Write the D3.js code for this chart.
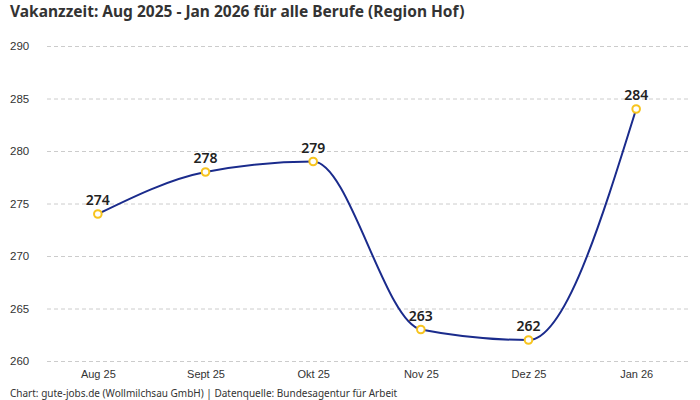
<!DOCTYPE html>
<html>
<head>
<meta charset="utf-8">
<script src="https://cdn.jsdelivr.net/npm/d3@7"></script>
<style>
  body { margin: 0; background: #fff; }
  svg { font-family: "Noto Sans", "Open Sans", sans-serif; }
</style>
</head>
<body>
<svg width="700" height="400"></svg>
<script>
const months = ["Aug 25", "Sept 25", "Okt 25", "Nov 25", "Dez 25", "Jan 26"];
const values = [274, 278, 279, 263, 262, 284];
const yTicks = [260, 265, 270, 275, 280, 285, 290];

let w = 700;
let h = 400;

let svg = d3.select("svg");

let xScale = d3.scalePoint()
    .domain(months)
    .range([44, 690])
    .padding(0.5);

let yScale = d3.scaleLinear()
    .domain([260, 290])
    .range([361, 46]);

// title
svg.append("text")
    .attr("x", 10)
    .attr("y", 17)
    .attr("font-size", 15.5)
    .attr("font-weight", "bold")
    .attr("fill", "#333")
    .text("Vakanzzeit: Aug 2025 - Jan 2026 für alle Berufe (Region Hof)");

// grid + y labels
let yAxis = d3.axisLeft(yScale)
    .tickValues(yTicks)
    .tickSize(-(690 - 47))
    .tickPadding(17);
let gy = svg.append("g")
    .attr("transform", "translate(47,0)")
    .call(yAxis);
gy.select(".domain").remove();
gy.selectAll(".tick line")
    .attr("stroke", "#ccc")
    .attr("stroke-dasharray", "4,3");
gy.selectAll(".tick text")
    .attr("fill", "#333")
    .attr("font-size", 11.5)
    .attr("text-anchor", "start")
    .attr("x", -37);

// x labels
let xAxis = d3.axisBottom(xScale).tickSize(0).tickPadding(9);
let gx = svg.append("g")
    .attr("transform", "translate(0,361)")
    .call(xAxis);
gx.select(".domain").remove();
gx.selectAll(".tick text")
    .attr("fill", "#333")
    .attr("font-size", 11);

// line
let line = d3.line()
    .x((d, i) => xScale(months[i]))
    .y(d => yScale(d))
    .curve(d3.curveMonotoneX);

svg.append("path")
    .datum(values)
    .attr("d", line)
    .attr("fill", "none")
    .attr("stroke", "#1a2b8c")
    .attr("stroke-width", 2);

svg.selectAll("circle.pt")
    .data(values)
    .enter()
    .append("circle")
    .attr("class", "pt")
    .attr("cx", (d, i) => xScale(months[i]))
    .attr("cy", d => yScale(d))
    .attr("r", 3.8)
    .attr("fill", "#fff")
    .attr("stroke", "#f7c41f")
    .attr("stroke-width", 2);

svg.selectAll("text.val")
    .data(values)
    .enter()
    .append("text")
    .attr("class", "val")
    .attr("x", (d, i) => xScale(months[i]))
    .attr("y", d => yScale(d) - 9)
    .attr("text-anchor", "middle")
    .attr("font-size", 14)
    .attr("font-weight", 600)
    .attr("fill", "#222")
    .text(d => d);

// footer
svg.append("text")
    .attr("x", 10)
    .attr("y", 397)
    .attr("font-size", 10)
    .attr("fill", "#333")
    .text("Chart: gute-jobs.de (Wollmilchsau GmbH) | Datenquelle: Bundesagentur für Arbeit");
</script>
</body>
</html>
